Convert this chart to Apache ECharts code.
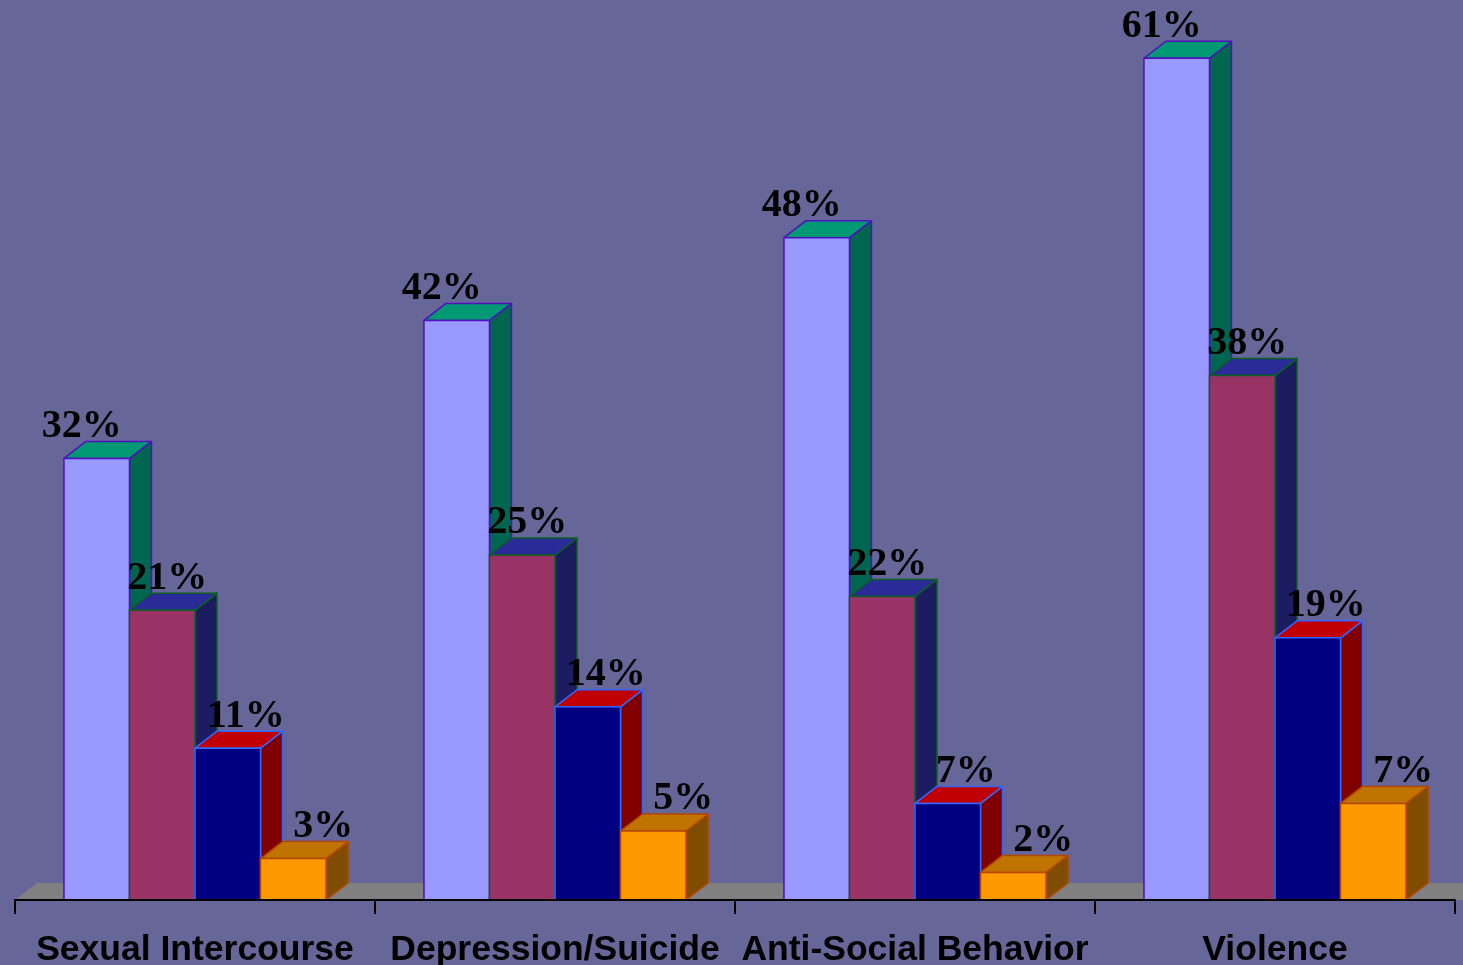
<!DOCTYPE html>
<html>
<head>
<meta charset="utf-8">
<script src="https://cdn.jsdelivr.net/npm/echarts@6.0.0/dist/echarts.min.js"></script>
<style>
  html, body { margin: 0; padding: 0; background: #666699; }
  #chart { width: 1463px; height: 965px; }
</style>
</head>
<body>
<div id="chart"></div>
<script>
// Share of youth reporting each outcome, four groups per category
const categories = ['Sexual Intercourse', 'Depression/Suicide', 'Anti-Social Behavior', 'Violence'];
const groupA = [32, 42, 48, 61];
const groupB = [21, 25, 22, 38];
const groupC = [11, 14, 7, 19];
const groupD = [3, 5, 2, 7];
const groups = [groupA, groupB, groupC, groupD];

// Face colours of each 3D bar: front, top, side and outline
const faces = [
  { front: '#9999FF', top: '#009973', side: '#006650', edge: '#5010C0' },
  { front: '#993366', top: '#2A2A99', side: '#1C1C60', edge: '#0B6020' },
  { front: '#000080', top: '#C00000', side: '#800000', edge: '#3366FF' },
  { front: '#FF9900', top: '#BF7300', side: '#804C00', edge: '#B34700' }
];
const DEPTH_X = 22;
const DEPTH_Y = 17;
const BAR_SHARE = 0.182;             // one bar's width as a share of the category band
const LABEL_SHIFT = [-15, 5, 18, 30]; // horizontal nudge of each group's value label
const LABEL_FONT = 'bold 40px "Liberation Serif", "Times New Roman", serif';

function barRenderer(s) {
  return function (params, api) {
    const cat = api.value(0);
    const val = api.value(1);
    const base = api.coord([cat, 0]);
    const top = api.coord([cat, val]);
    const band = api.size([1, 0])[0];
    const bw = band * BAR_SHARE;
    const x0 = base[0] - 2 * bw + s * bw;
    const x1 = x0 + bw;
    const yb = base[1];
    const yt = top[1];
    const f = faces[s];
    const edge = { stroke: f.edge, lineWidth: 1.5, lineJoin: 'round' };
    return {
      type: 'group',
      children: [
        {
          type: 'polygon',
          shape: { points: [[x1, yb], [x1 + DEPTH_X, yb - DEPTH_Y], [x1 + DEPTH_X, yt - DEPTH_Y], [x1, yt]] },
          style: Object.assign({ fill: f.side }, edge)
        },
        {
          type: 'polygon',
          shape: { points: [[x0, yt], [x0 + DEPTH_X, yt - DEPTH_Y], [x1 + DEPTH_X, yt - DEPTH_Y], [x1, yt]] },
          style: Object.assign({ fill: f.top }, edge)
        },
        {
          type: 'rect',
          shape: { x: x0, y: yt, width: bw, height: yb - yt },
          style: Object.assign({ fill: f.front }, edge)
        },
        {
          type: 'text',
          z2: 100,
          style: {
            text: val + '%',
            x: (x0 + x1) / 2 + LABEL_SHIFT[s],
            y: yt - DEPTH_Y + 5,
            align: 'center',
            verticalAlign: 'bottom',
            font: LABEL_FONT,
            fill: '#000000'
          }
        }
      ]
    };
  };
}

// Grey floor plane under the bars
function floorRenderer(params, api) {
  const cs = params.coordSys;
  const yb = cs.y + cs.height;
  return {
    type: 'polygon',
    shape: {
      points: [
        [cs.x, yb],
        [cs.x + DEPTH_X, yb - DEPTH_Y],
        [cs.x + cs.width + 200, yb - DEPTH_Y],
        [cs.x + cs.width + 200, yb]
      ]
    },
    style: { fill: '#808080' }
  };
}

const series = [{
  type: 'custom',
  z: 1,
  renderItem: floorRenderer,
  data: [[0, 0]],
  silent: true
}];
groups.forEach(function (vals, s) {
  series.push({
    type: 'custom',
    z: 2,
    renderItem: barRenderer(s),
    data: vals.map(function (v, i) { return [i, v]; })
  });
});

const chart = echarts.init(document.getElementById('chart'), null, { renderer: 'canvas' });
chart.setOption({
  backgroundColor: '#666699',
  animation: false,
  grid: { left: 15, right: 8, top: 0, bottom: 65, containLabel: false, outerBoundsMode: 'none' },
  xAxis: {
    type: 'category',
    data: categories,
    z: 5,
    axisLine: { show: true, lineStyle: { color: '#000000', width: 2 } },
    axisTick: { show: true, length: 14, lineStyle: { color: '#000000', width: 2 } },
    axisLabel: {
      interval: 0,
      margin: 32,
      color: '#000000',
      fontFamily: '"Liberation Sans", Arial, sans-serif',
      fontWeight: 'bold',
      fontSize: 35.5
    }
  },
  yAxis: {
    type: 'value',
    min: 0,
    max: 65.22,
    show: false,
    splitLine: { show: false }
  },
  series: series
});
</script>
</body>
</html>
